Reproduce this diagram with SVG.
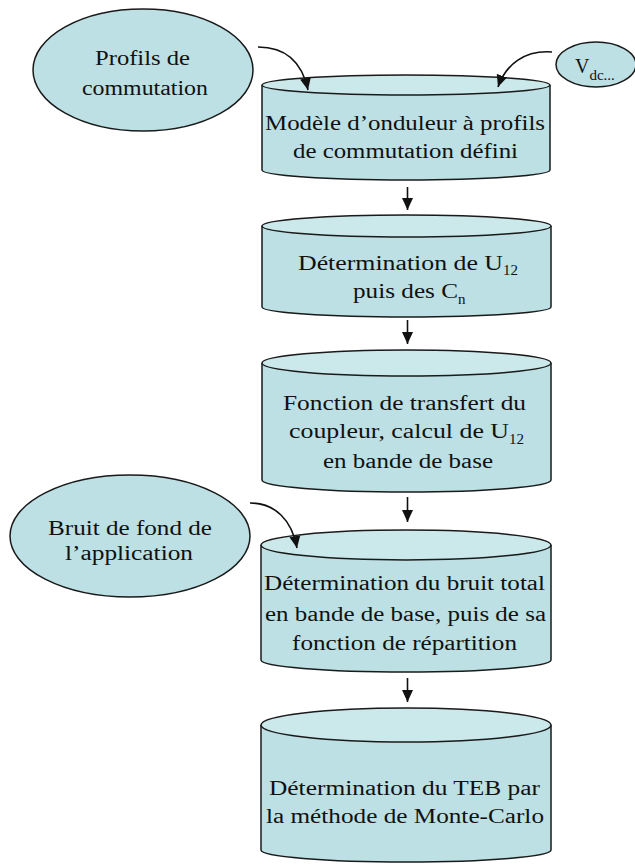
<svg xmlns="http://www.w3.org/2000/svg" width="635" height="865" viewBox="0 0 635 865">
<defs>
<style>
.body{fill:#BCE0E4;stroke:#1a1a1a;stroke-width:1.5}
.top{fill:#CBE8EB;stroke:#1a1a1a;stroke-width:1.5}
.oval{fill:#BCE0E4;stroke:#1a1a1a;stroke-width:1.5}
.t{font-family:'Liberation Serif','Times New Roman',serif;font-size:20px;fill:#111}
.sub{font-size:15px}
.c{fill:none;stroke:#111;stroke-width:1.6}
</style>
<marker id="ah" markerUnits="userSpaceOnUse" markerWidth="13" markerHeight="12" refX="12" refY="6" orient="auto" viewBox="0 0 13 12">
<path d="M0,0.5 L12,6 L0,11.5 z" fill="#111"/>
</marker>
</defs>
<rect width="635" height="865" fill="#fff"/>

<g id="profils" font-family="Liberation Serif, serif">
<ellipse class="oval" cx="143" cy="70" rx="110" ry="61"/>
<text class="t" x="95" y="65" textLength="95" lengthAdjust="spacingAndGlyphs">Profils de</text>
<text class="t" x="82" y="95" textLength="126" lengthAdjust="spacingAndGlyphs">commutation</text>
</g>

<g id="vdc">
<ellipse class="oval" cx="596" cy="64.5" rx="40" ry="22.5"/>
<text class="t" x="575" y="73">V<tspan class="sub" dy="7">dc...</tspan></text>
</g>

<g id="bruit">
<ellipse class="oval" cx="130" cy="536" rx="120" ry="61"/>
<text class="t" x="48" y="535" textLength="164" lengthAdjust="spacingAndGlyphs">Bruit de fond de</text>
<text class="t" x="65" y="560" textLength="128" lengthAdjust="spacingAndGlyphs">l’application</text>
</g>

<g id="modele">
<path class="body" d="M262,85 V170 A144,10 0 0 0 550,170 V85"/>
<ellipse class="top" cx="406" cy="85" rx="144" ry="10"/>
<text class="t" x="265" y="130" textLength="280" lengthAdjust="spacingAndGlyphs">Modèle d’onduleur à profils</text>
<text class="t" x="293" y="158" textLength="225" lengthAdjust="spacingAndGlyphs">de commutation défini</text>
</g>

<g id="u12">
<path class="body" d="M262,226 V307 A144.5,10 0 0 0 551,307 V226"/>
<ellipse class="top" cx="406.5" cy="226" rx="144.5" ry="11"/>
<text class="t" x="298" y="270"><tspan textLength="205" lengthAdjust="spacingAndGlyphs">Détermination de U</tspan><tspan class="sub" dy="5">12</tspan></text>
<text class="t" x="353" y="298"><tspan textLength="105" lengthAdjust="spacingAndGlyphs">puis des C</tspan><tspan class="sub" dy="6">n</tspan></text>
</g>

<g id="transfert">
<path class="body" d="M262,363 V480 A144.5,12 0 0 0 551,480 V363"/>
<ellipse class="top" cx="406.5" cy="363" rx="144.5" ry="13"/>
<text class="t" x="283" y="410" textLength="243" lengthAdjust="spacingAndGlyphs">Fonction de transfert du</text>
<text class="t" x="289" y="438"><tspan textLength="220" lengthAdjust="spacingAndGlyphs">coupleur, calcul de U</tspan><tspan class="sub" dy="6">12</tspan></text>
<text class="t" x="323" y="468" textLength="170" lengthAdjust="spacingAndGlyphs">en bande de base</text>
</g>

<g id="bruit-total">
<path class="body" d="M261,545 V660 A145,12 0 0 0 551,660 V545"/>
<ellipse class="top" cx="406" cy="545" rx="145" ry="15"/>
<text class="t" x="264" y="590" textLength="281" lengthAdjust="spacingAndGlyphs">Détermination du bruit total</text>
<text class="t" x="265" y="621" textLength="281" lengthAdjust="spacingAndGlyphs">en bande de base, puis de sa</text>
<text class="t" x="292" y="650" textLength="225" lengthAdjust="spacingAndGlyphs">fonction de répartition</text>
</g>

<g id="teb">
<path class="body" d="M261,725 V850 A145,12 0 0 0 551,850 V725"/>
<ellipse class="top" cx="406" cy="725" rx="145" ry="17"/>
<text class="t" x="269" y="795" textLength="271" lengthAdjust="spacingAndGlyphs">Détermination du TEB par</text>
<text class="t" x="266" y="823" textLength="278" lengthAdjust="spacingAndGlyphs">la méthode de Monte-Carlo</text>
</g>

<g id="connectors">
<path class="c" marker-end="url(#ah)" d="M258,47 C285,47 302,62 308,90"/>
<path class="c" marker-end="url(#ah)" d="M552,52 C525,50 506,64 498,87"/>
<path class="c" marker-end="url(#ah)" d="M250,503 C275,503 292,520 297,548"/>
<path class="c" marker-end="url(#ah)" d="M407.5,187 V210"/>
<path class="c" marker-end="url(#ah)" d="M407.5,320 V344"/>
<path class="c" marker-end="url(#ah)" d="M407.5,497 V522"/>
<path class="c" marker-end="url(#ah)" d="M407.5,678 V702"/>
</g>
</svg>
